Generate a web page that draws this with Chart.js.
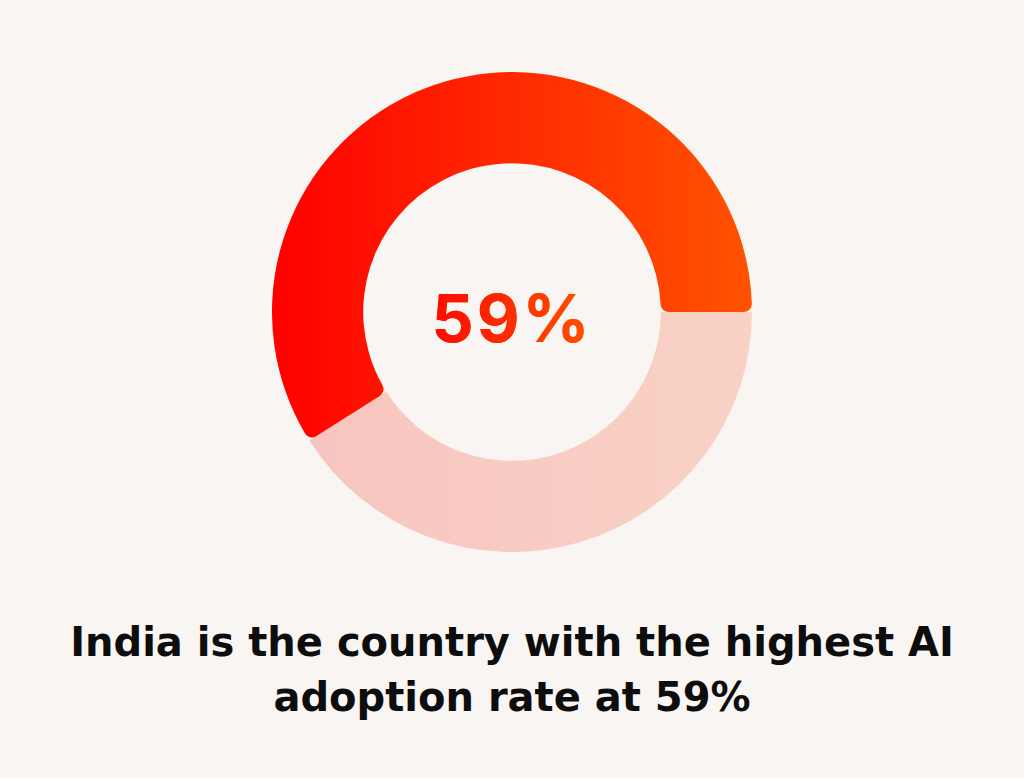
<!DOCTYPE html>
<html>
<head>
<meta charset="utf-8">
<script src="https://cdn.jsdelivr.net/npm/chart.js@4"></script>
<style>
  html, body { margin:0; padding:0; background:#f9f5f2; width:1024px; height:778px; overflow:hidden; }
  #wrap { position:absolute; left:272px; top:72px; width:480px; height:480px; }
  #center { position:absolute; left:0; width:1024px; text-align:center; top:278px;
    font-family:"Inter","Liberation Sans",sans-serif; font-weight:700; font-size:66px; line-height:80px; letter-spacing:3px;
    background:linear-gradient(90deg,#ff1000 40%,#ff5000 60%); -webkit-background-clip:text; background-clip:text; color:transparent; }
  #center span { background:linear-gradient(90deg,#ff0a00,#ff5200); -webkit-background-clip:text; background-clip:text; color:transparent; }
  #caption { position:absolute; left:0; width:1024px; top:615px; text-align:center;
    font-family:"DejaVu Sans",sans-serif; font-weight:700; font-size:40px; line-height:55px; color:#0d0d0d; }
</style>
</head>
<body>
<div id="wrap"><canvas id="c"></canvas></div>
<div id="center"></div>
<div id="caption"></div>
<script>
const categories = ["Other", "AI adoption"];
const values = [41, 59];
const centerLabel = "59%";
const captionLines = ["India is the country with the highest AI", "adoption rate at 59%"];

document.getElementById('center').innerHTML = '<span>' + centerLabel + '</span>';
document.getElementById('caption').innerHTML = captionLines.map(s => s.replace(/&/g,'&amp;')).join('<br>');

function grad(ctx, c1, c2) {
  const chart = ctx.chart;
  const a = chart.chartArea;
  if (!a) return c1;
  const g = chart.ctx.createLinearGradient(a.left, 0, a.right, 0);
  g.addColorStop(0, c1);
  g.addColorStop(1, c2);
  return g;
}

new Chart(document.getElementById('c'), {
  type: 'doughnut',
  data: {
    labels: categories,
    datasets: [{
      data: values,
      backgroundColor: (ctx) => ctx.dataIndex === 1 ? grad(ctx, '#ff0000', '#ff5300') : grad(ctx, '#f7c4bf', '#f9d2c5'),
      borderWidth: 0,
      borderRadius: (ctx) => ctx.dataIndex === 1 ? 8 : 0,
      hoverOffset: 0
    }]
  },
  options: {
    responsive: true,
    maintainAspectRatio: false,
    animation: false,
    rotation: 90,
    cutout: '62%',
    layout: { padding: 0 },
    plugins: { legend: { display: false }, tooltip: { enabled: false } }
  }
});
</script>
</body>
</html>
